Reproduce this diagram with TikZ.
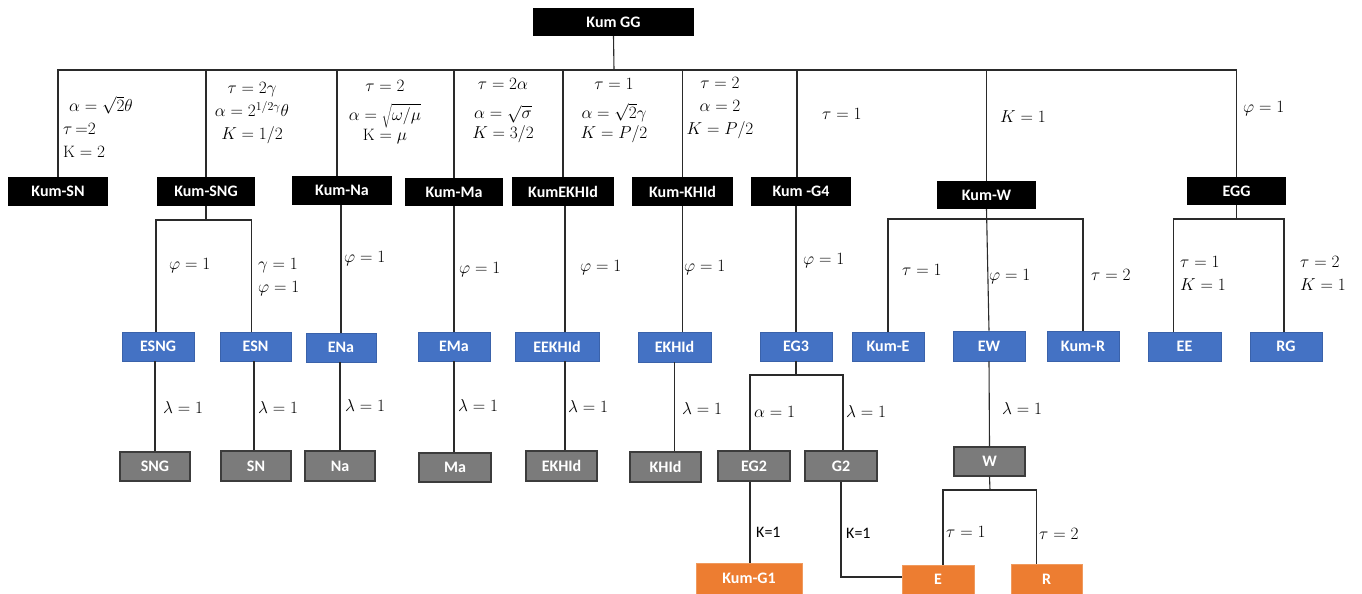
\documentclass[tikz,border=0pt]{standalone}
\usepackage{fontspec}
\setmainfont{Carlito}
\setmathrm{Latin Modern Roman}
\definecolor{blueC}{HTML}{4472C4}
\definecolor{blueD}{HTML}{3A62AA}
\definecolor{grayC}{HTML}{7B7B7B}
\definecolor{grayD}{HTML}{3C3C3C}
\definecolor{orgC}{HTML}{ED7D31}
\definecolor{orgD}{HTML}{F09A5E}
\definecolor{lineC}{HTML}{2A2A2A}
\newcommand\mlabfont{\fontsize{16.5}{23}\selectfont}
\begin{document}
\begin{tikzpicture}[x=1pt,y=-1pt,
  bxs/.style={inner sep=0pt, font=\fontsize{16}{18}\selectfont\bfseries, text=white, minimum height=29pt},
  blk/.style={bxs, fill=black},
  blu/.style={bxs, fill=blueC, draw=blueD, line width=0.6pt},
  gry/.style={bxs, fill=grayC, draw=grayD, line width=1.2pt},
  org/.style={bxs, fill=orgC, draw=orgD, line width=0.6pt},
  lab/.style={inner sep=0pt, font=\mlabfont, anchor=west},
  klab/.style={inner sep=0pt, font=\fontsize{16}{18}\selectfont, anchor=west},
  conn/.style={draw=lineC, line width=1.1pt}]
\useasboundingbox[fill=white] (0,0) rectangle (1362,594);

% ---- top
\node[blk, minimum width=161pt, minimum height=28pt] (GG) at (613.5,22) {Kum GG\hspace{14pt}};

% ---- level 1 (black)
\node[blk, minimum width=100pt] (KumSN) at (58,191.5) {Kum-SN\hspace{5pt}};
\node[blk, minimum width=98pt] (KumSNG) at (206,191.5) {Kum-SNG\hspace{5pt}};
\node[blk, minimum width=100pt] (KumNa) at (342,190.5) {Kum-Na};
\node[blk, minimum width=98pt, minimum height=28pt] (KumMa) at (454,192) {Kum-Ma};
\node[blk, minimum width=102pt] (KumEKHId) at (563,191.5) {KumEKHId};
\node[blk, minimum width=101pt] (KumKHId) at (682.5,191.5) {Kum-KHId};
\node[blk, minimum width=100pt] (KumG4) at (801,191.5) {Kum -G4};
\node[blk, minimum width=99pt, minimum height=28pt] (KumW) at (986.5,195) {Kum-W};
\node[blk, minimum width=99pt, minimum height=28pt] (EGG) at (1236.5,191) {EGG};

% ---- level 2 (blue)
\node[blu, minimum width=72pt] (ESNG) at (158,346.5) {ESNG\hspace{10pt}};
\node[blu, minimum width=71pt] (ESN) at (255.5,346.5) {ESN\hspace{10pt}};
\node[blu, minimum width=70pt] (ENa) at (341,347.5) {ENa\hspace{4pt}};
\node[blu, minimum width=72pt] (EMa) at (454,346.5) {EMa\hspace{6pt}};
\node[blu, minimum width=84pt] (EEKHId) at (557,346.5) {EEKHId\hspace{8pt}};
\node[blu, minimum width=73pt, minimum height=30pt] (EKHId) at (674.5,347) {EKHId\hspace{8pt}};
\node[blu, minimum width=72pt] (EG3) at (796,346.5) {EG3};
\node[blu, minimum width=72pt] (KumE) at (888,346.5) {Kum-E\hspace{4pt}};
\node[blu, minimum width=72pt, minimum height=30pt] (EW) at (989,346) {EW\hspace{10pt}};
\node[blu, minimum width=72pt, minimum height=30pt] (KumR) at (1083,346) {Kum-R};
\node[blu, minimum width=73pt] (EE) at (1184.5,346.5) {EE\hspace{4pt}};
\node[blu, minimum width=72pt] (RG) at (1286,346.5) {RG\hspace{8pt}};

% ---- level 3 (gray)
\node[gry, minimum width=70pt] (SNG) at (155,466.5) {SNG\hspace{10pt}};
\node[gry, minimum width=70pt, minimum height=30pt] (SN) at (256,466) {SN\hspace{8pt}};
\node[gry, minimum width=70pt, minimum height=30pt] (Na) at (340,466) {Na\hspace{14pt}};
\node[gry, minimum width=72pt] (Ma) at (455,467.5) {Ma\hspace{10pt}};
\node[gry, minimum width=71pt, minimum height=30pt] (EKHIdB) at (561.5,466) {EKHId\hspace{8pt}};
\node[gry, minimum width=71pt, minimum height=30pt] (KHId) at (665.5,467) {KHId\hspace{8pt}};
\node[gry, minimum width=72pt, minimum height=30pt] (EG2) at (754,466) {EG2\hspace{8pt}};
\node[gry, minimum width=72pt, minimum height=30pt] (G2) at (841,466) {G2\hspace{14pt}};
\node[gry, minimum width=71pt] (W) at (989.5,461.5) {W};

% ---- level 4 (orange)
\node[org, minimum width=106pt, minimum height=31pt] (KumG1) at (749,578.5) {Kum-G1\hspace{12pt}};
\node[org, minimum width=72pt] (E) at (938,579.5) {E};
\node[org, minimum width=71pt, minimum height=30pt] (R) at (1046.5,579) {R};

% ---- junction points
\coordinate (ggJ) at (614,70);
\coordinate (sngJ) at (206,220);
\coordinate (wJ) at (987,219);
\coordinate (eggJ) at (1234,219);
\coordinate (eg3J) at (799,375);
\coordinate (wwJ) at (990,490);

% ---- connectors
\draw[conn] (GG.south) -- (ggJ);
\draw[conn] (KumSN.north) |- (ggJ) -| (EGG.north);
\draw[conn] (KumSNG.north) -- (KumSNG.north |- ggJ);
\draw[conn] ([xshift=-5pt]KumNa.north) -- ([xshift=-5pt]KumNa.north |- ggJ);
\draw[conn] (KumMa.north) -- (KumMa.north |- ggJ);
\draw[conn] (KumEKHId.north) -- (KumEKHId.north |- ggJ);
\draw[conn] (KumKHId.north) -- (KumKHId.north |- ggJ);
\draw[conn] ([xshift=-4pt]KumG4.north) -- ([xshift=-4pt]KumG4.north |- ggJ);
\draw[conn] (KumW.north) -- (KumW.north |- ggJ);

\draw[conn] (KumSNG.south) -- (sngJ);
\draw[conn] ([xshift=-2pt]ESNG.north) |- (sngJ) -| ([xshift=-4pt]ESN.north);
\draw[conn] (ENa.north) -- (ENa.north |- KumNa.south);
\draw[conn] (KumMa.south) -- (KumMa.south |- EMa.north);
\draw[conn] ([xshift=2pt]KumEKHId.south) -- ([xshift=2pt]KumEKHId.south |- EEKHId.north);
\draw[conn] (KumKHId.south) -- (KumKHId.south |- EKHId.north);
\draw[conn] (EG3.north) -- (EG3.north |- KumG4.south);
\draw[conn] (KumW.south) -- (EW.north);
\draw[conn] (KumE.north) |- (wJ) -| (KumR.north);
\draw[conn] (EGG.south) -- (EGG.south |- eggJ);
\draw[conn] ([xshift=-11pt]EE.north) |- (eggJ) -| ([xshift=-2pt]RG.north);

\draw[conn] (SNG.north) -- (SNG.north |- ESNG.south);
\draw[conn] ([xshift=-2pt]SN.north) -- ([xshift=-2pt]SN.north |- ESN.south);
\draw[conn] (Na.north) -- (Na.north |- ENa.south);
\draw[conn] (EMa.south) -- (EMa.south |- Ma.north);
\draw[conn] ([xshift=3.5pt]EKHIdB.north) -- ([xshift=3.5pt]EKHIdB.north |- EEKHId.south);
\draw[conn] (EKHId.south) -- (EKHId.south |- KHId.north);
\draw[conn] (EG3.south) -- (EG3.south |- eg3J);
\draw[conn] ([xshift=-4pt]EG2.north) |- (eg3J) -| ([xshift=2pt]G2.north);
\draw[conn] (EW.south) -- (W.north);

\draw[conn] ([xshift=-4pt]EG2.south) -- ([xshift=-4pt]EG2.south |- KumG1.north);
\draw[conn] (G2.south) |- ([yshift=2.5pt]E.west);
\draw[conn] (W.south) -- (wwJ);
\draw[conn] ([xshift=5pt]E.north) |- (wwJ) -| ([xshift=-10pt]R.north);

% ---- labels, level 1
\node[lab, align=left] (l1) at (63,127) {\hspace{6pt}$\alpha = \sqrt{2}\theta$\\$\tau\,{=}2$\\$\mathrm{K} = 2$};
\node[lab, anchor=center, align=center] (l2) at (252,113) {$\tau = 2\gamma$\\$\alpha = 2^{1/2\gamma}\theta$\\$K = 1/2$};
\node[lab, anchor=center, align=center] (l3) at (385,112) {$\tau = 2$\\[6pt]$\alpha = \sqrt{\omega/\mu}$\\[-3pt]$\mathrm{K} = \mu$};
\node[lab, anchor=center, align=center] (l4) at (503,111) {$\tau = 2\alpha$\\[6pt]$\alpha = \sqrt{\sigma}$\\[-3pt]$K = 3/2$};
\node[lab, anchor=center, align=center] (l5) at (614,111) {$\tau = 1$\\[6pt]$\alpha = \sqrt{2}\gamma$\\[-3pt]$K = P/2$};
\node[lab, anchor=center, align=center] (l6) at (720,108) {$\tau = 2$\\$\alpha = 2$\\$K = P/2$};
\node[lab] (l7) at (822,114) {$\tau = 1$};
\node[lab] (l8) at (1000,117) {$K = 1$};
\node[lab] (l9) at (1243,109) {$\varphi = 1$};

% ---- labels, level 2
\node[lab] (m1) at (169,266) {$\varphi = 1$};
\node[lab, align=left] (m2) at (258,277) {$\gamma = 1$\\$\varphi = 1$};
\node[lab] (m3) at (344,259) {$\varphi = 1$};
\node[lab] (m4) at (459,270) {$\varphi = 1$};
\node[lab] (m5) at (580,268) {$\varphi = 1$};
\node[lab] (m6) at (684,268) {$\varphi = 1$};
\node[lab] (m7) at (803,261) {$\varphi = 1$};
\node[lab] (m8) at (902,270) {$\tau = 1$};
\node[lab] (m9) at (989,277) {$\varphi = 1$};
\node[lab] (m10) at (1091,275) {$\tau = 2$};
\node[lab, align=left] (m11) at (1180,273) {$\tau = 1$\\$K = 1$};
\node[lab, align=left] (m12) at (1300,273) {$\tau = 2$\\$K = 1$};

% ---- labels, level 3
\node[lab] (n1) at (163,407) {$\lambda = 1$};
\node[lab] (n2) at (258,407) {$\lambda = 1$};
\node[lab] (n3) at (345,405) {$\lambda = 1$};
\node[lab] (n4) at (458,405) {$\lambda = 1$};
\node[lab] (n5) at (568,406) {$\lambda = 1$};
\node[lab] (n6) at (682,408) {$\lambda = 1$};
\node[lab] (n7) at (754,412) {$\alpha = 1$};
\node[lab] (n8) at (846,411) {$\lambda = 1$};
\node[lab] (n9) at (1002,408) {$\lambda = 1$};

% ---- labels, level 4
\node[klab] (k1) at (756,532) {K=1};
\node[klab] (k2) at (846,533) {K=1};
\node[lab] (k3) at (946,532) {$\tau = 1$};
\node[lab] (k4) at (1039,534) {$\tau = 2$};
\end{tikzpicture}
\end{document}
